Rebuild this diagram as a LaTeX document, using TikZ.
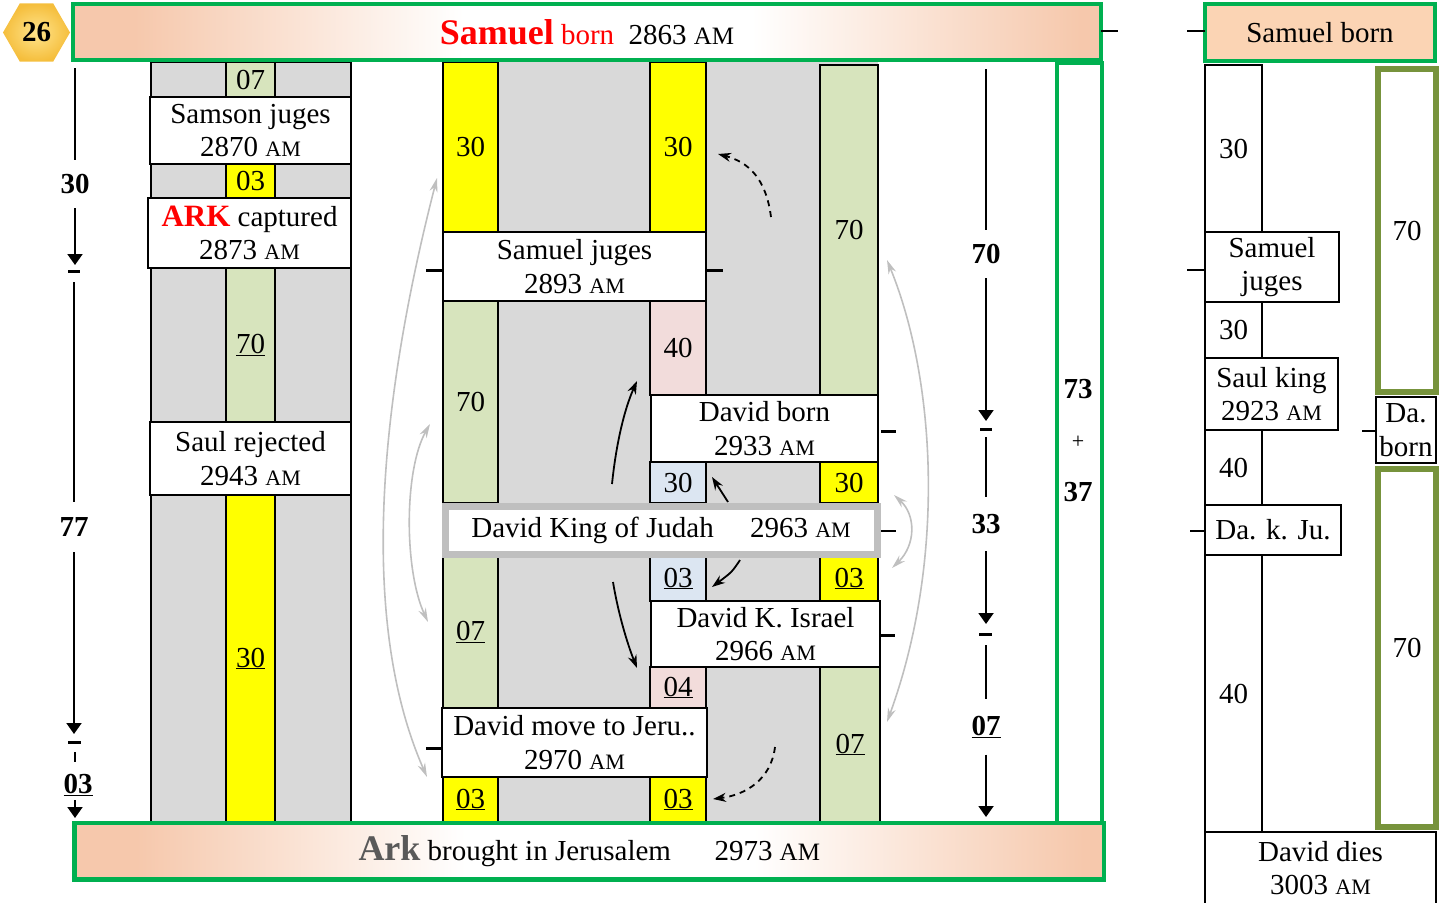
\documentclass[tikz,border=0pt]{standalone}
\usepackage{fontspec}
\setmainfont{Liberation Serif}
\usetikzlibrary{arrows.meta,shapes.geometric}
\definecolor{cgray}{HTML}{D9D9D9}
\definecolor{cgreenc}{HTML}{D7E4BD}
\definecolor{cyel}{HTML}{FFFF00}
\definecolor{cpink}{HTML}{F2DCDB}
\definecolor{cblue}{HTML}{DCE6F2}
\definecolor{cbord}{HTML}{00B050}
\definecolor{colive}{HTML}{77933C}
\definecolor{cpeach}{HTML}{F6C8AC}
\definecolor{cpeachb}{HTML}{FBD4B4}
\definecolor{cframe}{HTML}{BFBFBF}
\definecolor{ccurve}{HTML}{BFBFBF}
\definecolor{arkgray}{HTML}{595959}
\definecolor{hexin}{HTML}{FFE48C}
\definecolor{hexout}{HTML}{F5BE3C}
\pgfdeclarehorizontalshading{bannershade}{100bp}{color(0bp)=(cpeach); color(28bp)=(cpeach); color(44bp)=(white); color(58bp)=(white); color(74bp)=(cpeach); color(100bp)=(cpeach)}
\newcommand\fs{\fontsize{29}{33.5}\selectfont}
\newcommand\AM{{\fontsize{22}{22}\selectfont AM}}
\newcommand\AMbig{{\fontsize{25}{25}\selectfont AM}}
\newcommand\bx[7]{\node[cell,fill=#6,minimum width=#4pt,minimum height=#5pt] (#1) at (#2,#3) {#7};}
\begin{document}
\begin{tikzpicture}[x=1pt,y=-1pt,
  cell/.style={draw=black,line width=1.5pt,inner sep=0pt,outer sep=0pt,anchor=north west,align=center,font=\fs},
  tk/.style={line width=3pt},
  tkthin/.style={line width=1.3pt},
  dim/.style={font=\fs\bfseries,inner sep=0pt,minimum width=30pt},
  varr/.style={line width=2pt,-{Triangle[width=15pt,length=11pt]}},
  vline/.style={line width=2pt},
  garr/.style={draw=ccurve,line width=1.6pt,{Stealth[length=14pt,width=8pt]}-{Stealth[length=14pt,width=8pt]}},
  barr/.style={line width=1.8pt,-{Stealth[length=13pt,width=9pt]}},
  dasharr/.style={barr,dash pattern=on 6pt off 5pt}
]
\useasboundingbox (0,0) rectangle (1442,902);

% ---------- left block ----------
\node[cell,draw=black,fill=cgray,minimum width=200pt,minimum height=760pt] (Lg) at (151,62) {};
\bx{Lc1}{226}{62}{49}{35}{cgreenc}{07}
\bx{Samson}{150}{97}{201}{67}{white}{Samson juges\\2870 \AM}
\bx{Lc2}{226}{164}{49}{34}{cyel}{03}
\bx{Ark}{148}{198}{203}{70}{white}{{\fontsize{31}{33.5}\selectfont\bfseries\color{red}ARK} captured\\2873 \AM}
\bx{Lc3}{226}{268}{49}{154}{cgreenc}{\underline{70}}
\bx{Saulrej}{150}{422}{201}{73}{white}{Saul rejected\\2943 \AM}
\bx{Lc4}{226}{495}{49}{327}{cyel}{\underline{30}}

% ---------- middle block ----------
\node[cell,draw=none,fill=cgray,minimum width=435pt,minimum height=760pt] (Mg) at (443,62) {};
\bx{A1}{443}{62}{55}{170}{cyel}{30}
\bx{C1}{650}{62}{56}{170}{cyel}{30}
\bx{E1}{820}{65}{58}{330}{cgreenc}{70}
\bx{Sj}{443}{232}{263}{69}{white}{Samuel juges\\2893 \AM}
\bx{A2}{443}{301}{55}{202}{cgreenc}{70}
\bx{C2}{650}{301}{56}{94}{cpink}{40}
\bx{Db}{651}{395}{227}{67}{white}{David born\\2933 \AM}
\bx{C3}{650}{462}{56}{41}{cblue}{30}
\bx{E2}{820}{462}{58}{41}{cyel}{30}
\bx{A3}{443}{556}{55}{152}{cgreenc}{\underline{07}}
\bx{C4}{650}{556}{56}{45}{cblue}{\underline{03}}
\bx{E3}{820}{556}{58}{45}{cyel}{\underline{03}}
\bx{Dki}{651}{601}{229}{66}{white}{David K. Israel\\2966 \AM}
\bx{C5}{650}{667}{56}{41}{cpink}{\underline{04}}
\bx{E4}{820}{667}{60}{155}{cgreenc}{\underline{07}}
\bx{Dm}{442}{708}{265}{69}{white}{David move to Jeru..\\2970 \AM}
\bx{A4}{443}{777}{55}{45}{cyel}{\underline{03}}
\bx{C6}{650}{777}{56}{45}{cyel}{\underline{03}}
\node[cell,draw=cframe,line width=7pt,fill=white,minimum width=432pt,minimum height=48pt] (King) at (445,506) {David King of Judah\quad\ 2963 \AM};

% middle ticks
\draw[tk] (426,270) -- (443,270);
\draw[tk] (707,270) -- (723,270);
\draw[tk] (881,431) -- (896,431);
\draw[line width=1.5pt] (881,531) -- (896,531);
\draw[tk] (881,635) -- (895,635);
\draw[tk] (426,748) -- (442,748);

% ---------- tall green rectangle ----------
\node[cell,draw=cbord,line width=3.5pt,minimum width=45pt,minimum height=760pt] (Tall) at (1057,63) {};
\node[dim] (T73) at (1078,389) {73};
\node[font=\fontsize{22}{22}\selectfont,inner sep=0pt] (Tplus) at (1078,442) {+};
\node[dim] (T37) at (1078,492) {37};

% ---------- banners ----------
\node[cell,draw=cbord,line width=4pt,shading=bannershade,minimum width=1028pt,minimum height=56pt] (Top) at (73,4)
  {{\fontsize{36}{36}\selectfont\bfseries\color{red}Samuel} {\color{red}born}\ \ 2863 \AMbig};
\node[cell,draw=cbord,line width=4.5pt,shading=bannershade,minimum width=1029.5pt,minimum height=56.5pt] (Bot) at (74.5,823)
  {{\fontsize{36}{36}\selectfont\bfseries\color{arkgray}Ark} brought in Jerusalem\quad\ \ 2973 \AMbig};
\node[regular polygon,regular polygon sides=6,minimum size=67pt,inner sep=0pt,inner color=hexin,outer color=hexout,font=\fs\bfseries] (Hex) at (36.5,32.5) {26};

% ---------- left dimension line ----------
\coordinate (L0) at (75,68);
\node[dim,minimum height=48pt] (L30) at (75,184) {30};
\coordinate (L1) at (75,265);
\draw[vline] (L0) -- (L30.north);
\draw[varr] (L30.south) -- (L1);
\draw[tk] (68,271) -- (80,271);
\coordinate (L2) at (74,282);
\node[dim,minimum height=50pt] (L77) at (74,527) {77};
\coordinate (L3) at (74,734);
\draw[vline] (L2) -- (L77.north);
\draw[varr] (L77.south) -- (L3);
\draw[tk] (68,742) -- (81,742);
\draw[line width=2pt] (75,752) -- (75,762);
\node[dim] (L03) at (78,785) {\underline{03}};
\coordinate (L4a) at (75,800);
\coordinate (L4) at (75,818);
\draw[varr] (L4a) -- (L4);

% ---------- right dimension line ----------
\coordinate (R0) at (986,69);
\node[dim,minimum height=48pt] (R70) at (986,254) {70};
\coordinate (R1c) at (986,421);
\draw[vline] (R0) -- (R70.north);
\draw[varr] (R70.south) -- (R1c);
\draw[tk] (980,429) -- (992,429);
\coordinate (R2c) at (986,437);
\node[dim,minimum height=54pt] (R33) at (986,524) {33};
\coordinate (R3c) at (986,624);
\draw[vline] (R2c) -- (R33.north);
\draw[varr] (R33.south) -- (R3c);
\draw[tk] (979,634) -- (992,634);
\coordinate (R4c) at (986,645);
\node[dim,minimum height=55pt] (R07) at (986,727) {\underline{07}};
\coordinate (R5c) at (986,817);
\draw[vline] (R4c) -- (R07.north);
\draw[varr] (R07.south) -- (R5c);

% ---------- right section ----------
\node[cell,draw=cbord,line width=4pt,fill=cpeachb,minimum width=230pt,minimum height=57pt] (Sb) at (1205,4) {Samuel born};
\draw[tkthin] (Top.east |- 0,31) -- (1118,31);
\draw[tkthin] (1187,31) -- (Sb.west |- 0,31);
\bx{R1}{1205}{65}{57}{167}{white}{30}
\bx{Rsj}{1205}{232}{134}{70}{white}{Samuel\\juges}
\bx{R2}{1205}{302}{57}{56}{white}{30}
\bx{Rsk}{1205}{358}{133}{72}{white}{Saul king\\2923 \AM}
\bx{R3}{1205}{430}{57}{75}{white}{40}
\bx{Rdk}{1205}{505}{136}{50}{white}{Da. k. Ju.}
\bx{R4}{1205}{555}{57}{277}{white}{40}
\bx{Rdd}{1205}{832}{231}{72}{white}{David dies\\3003 \AM}
\node[cell,draw=colive,line width=6pt,fill=white,minimum width=58pt,minimum height=323pt] (O1) at (1378,69) {70};
\bx{Rdb}{1376}{397}{60}{66}{white}{Da.\\born}
\node[cell,draw=colive,line width=6pt,fill=white,minimum width=58pt,minimum height=358pt] (O2) at (1378,469) {70};
\draw[tkthin] (1187,270) -- (1205,270);
\draw[tkthin] (1190,531) -- (1205,531);
\draw[tkthin] (1362,431) -- (1376,431);

% ---------- gray curved arrows ----------
\coordinate (g1a) at (437,178); \coordinate (g1b) at (427,777);
\coordinate (g2a) at (430,424); \coordinate (g2b) at (428,622);
\coordinate (g3a) at (887,260); \coordinate (g3b) at (887,722);
\coordinate (g4a) at (894,495); \coordinate (g4b) at (892,568);
\draw[garr] (g1a) .. controls (380,400) and (358,620) .. (g1b);
\draw[garr] (g2a) .. controls (404,470) and (404,570) .. (g2b);
\draw[garr] (g3a) .. controls (936,380) and (946,560) .. (g3b);
\draw[garr] (g4a) .. controls (916,515) and (916,545) .. (g4b);

% ---------- black arrows ----------
\coordinate (b1a) at (771,217); \coordinate (b1b) at (718,154);
\draw[dasharr] (b1a) .. controls (766,178) and (748,162) .. (b1b);
\coordinate (b2a) at (612,484); \coordinate (b2b) at (637,381);
\draw[barr] (b2a) .. controls (616,445) and (624,410) .. (b2b);
\coordinate (b3a) at (728,502); \coordinate (b3b) at (712,477);
\draw[barr] (b3a) -- (b3b);
\coordinate (b4a) at (740,560); \coordinate (b4b) at (712,587);
\draw[barr] (b4a) .. controls (732,572) .. (b4b);
\coordinate (b5a) at (613,582); \coordinate (b5b) at (637,668);
\draw[barr] (b5a) .. controls (619,618) and (629,648) .. (b5b);
\coordinate (b6a) at (775,747); \coordinate (b6b) at (713,799);
\draw[dasharr] (b6a) .. controls (771,780) and (745,795) .. (b6b);
\end{tikzpicture}
\end{document}
